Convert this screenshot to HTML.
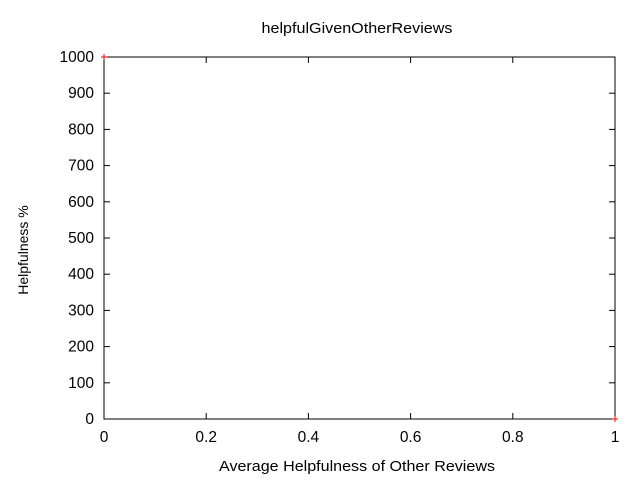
<!DOCTYPE html>
<html><head><meta charset="utf-8"><style>body{margin:0;background:#fff}svg{display:block;font-family:"Liberation Sans",sans-serif;font-size:14px}</style></head>
<body>
<svg id="c" width="640" height="480">
<text x="357" y="33" text-anchor="middle" textLength="191" lengthAdjust="spacingAndGlyphs" style="font-size:15px">helpfulGivenOtherReviews</text>
<text x="357" y="471" text-anchor="middle" textLength="276" lengthAdjust="spacingAndGlyphs" style="font-size:15px">Average Helpfulness of Other Reviews</text>
<text transform="translate(28,250) rotate(-90)" text-anchor="middle">Helpfulness %</text>
<rect x="104" y="57" width="511" height="362" fill="none" stroke="#000"/>
</svg>
<script>
const xTicks=[0,0.2,0.4,0.6,0.8,1];
const xTickLabels=["0","0.2","0.4","0.6","0.8","1"];
const yTicks=[0,100,200,300,400,500,600,700,800,900,1000];
const xVals=[0,1];
const yVals=[1000,0];
const L=104,R=615,T=57,B=419;
const sx=v=>L+(R-L)*v, sy=v=>B-(B-T)*v/1000;
const svg=document.getElementById('c'),NS='http://www.w3.org/2000/svg';
function mk(t,a){const e=document.createElementNS(NS,t);for(const k in a)e.setAttribute(k,a[k]);svg.appendChild(e);return e;}
xTicks.forEach((v,i)=>{
 const x=sx(v);
 const t1=mk('line',{x1:x,x2:x,y1:B,y2:B-6,stroke:'#000'});
 
 
 const t2=mk('line',{x1:x,x2:x,y1:T,y2:T+6,stroke:'#000'});
 
 
 const tx=mk('text',{x:x,y:442,'text-anchor':'middle',style:'font-size:15.5px'});tx.textContent=xTickLabels[i];
 
 
});
yTicks.forEach(v=>{
 const y=sy(v);
 const t1=mk('line',{x1:L,x2:L+6,y1:y,y2:y,stroke:'#000'});
 
 
 const t2=mk('line',{x1:R,x2:R-6,y1:y,y2:y,stroke:'#000'});
 
 
 const tx=mk('text',{x:94,y:y+5,'text-anchor':'end',style:'font-size:15.5px'});tx.textContent=v;
 
 
});
xVals.forEach((v,i)=>{
 const x=sx(v),y=sy(yVals[i]);
 const p=mk('path',{d:`M${x-3},${y}h6M${x},${y-3}v6`,stroke:'#f00','stroke-width':1});
 
 
});
</script>
</body></html>
